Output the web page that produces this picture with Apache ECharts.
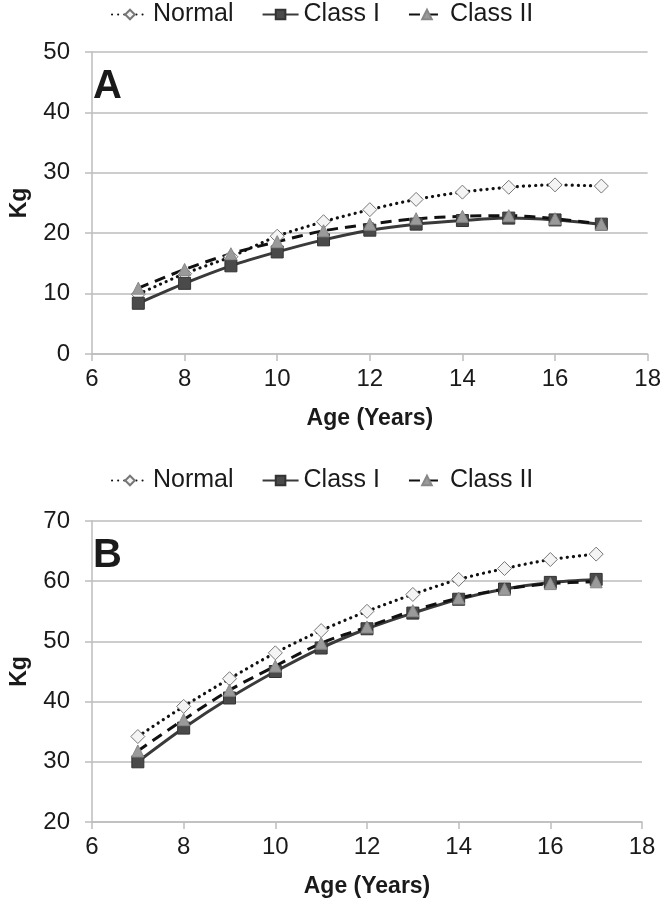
<!DOCTYPE html>
<html>
<head>
<meta charset="utf-8">
<script src="https://cdn.jsdelivr.net/npm/echarts@6/dist/echarts.min.js"></script>
<style>
html,body{margin:0;padding:0;background:#fff;}
#chart{width:664px;height:903px;}
</style>
</head>
<body>
<div id="chart"></div>
<script>
var ages = [7, 8, 9, 10, 11, 12, 13, 14, 15, 16, 17];
var seriesNames = ['Normal', 'Class I', 'Class II'];
// Panel A
var aNormal = [9.9, 13.3, 16.1, 19.5, 21.9, 23.9, 25.6, 26.8, 27.6, 28.0, 27.8];
var aClassI = [8.4, 11.7, 14.6, 16.9, 18.9, 20.5, 21.5, 22.1, 22.5, 22.2, 21.5];
var aClassII = [10.9, 14.0, 16.6, 18.6, 20.4, 21.5, 22.4, 22.8, 22.9, 22.4, 21.5];
// Panel B
var bNormal = [34.2, 39.2, 43.8, 48.1, 51.8, 55.0, 57.8, 60.3, 62.1, 63.6, 64.5];
var bClassI = [30.0, 35.6, 40.6, 45.0, 48.9, 52.1, 54.7, 57.0, 58.7, 59.8, 60.3];
var bClassII = [31.8, 37.0, 41.9, 45.9, 49.7, 52.4, 55.1, 57.2, 58.7, 59.6, 59.9];
var panelLabels = ['A', 'B'];
var xTitle = 'Age (Years)';
var yTitle = 'Kg';

function pairs(vals) { return ages.map(function (a, i) { return [a, vals[i]]; }); }

var FONT = '"Liberation Sans", Arial, sans-serif';
var TXT = '#1a1a1a';
var GRID = '#bdbdbd';

var styles = {
  'Normal': {
    symbol: 'diamond', symbolSize: 14,
    itemStyle: { color: '#f4f4f4', borderColor: '#777', borderWidth: 1 },
    lineStyle: { color: '#111', width: 3.2, type: [0.1, 6], cap: 'round' }
  },
  'Class I': {
    symbol: 'rect', symbolSize: 12,
    itemStyle: { color: '#4a4a4a', borderColor: '#333', borderWidth: 1 },
    lineStyle: { color: '#3a3a3a', width: 3, type: 'solid' }
  },
  'Class II': {
    symbol: 'triangle', symbolSize: 12,
    itemStyle: { color: '#9a9a9a', borderColor: '#888', borderWidth: 1 },
    lineStyle: { color: '#111', width: 3, type: [11, 7] }
  }
};

function mkSeries(name, vals, idx) {
  var s = styles[name];
  return {
    name: name, type: 'line', xAxisIndex: idx, yAxisIndex: idx,
    data: pairs(vals), smooth: 0.3, showSymbol: true,
    symbol: s.symbol, symbolSize: s.symbolSize,
    itemStyle: s.itemStyle, lineStyle: s.lineStyle,
    emphasis: { disabled: true }, animation: false
  };
}

function xAxis(idx) {
  return {
    type: 'value', gridIndex: idx, min: 6, max: 18, interval: 2,
    axisLine: { show: true, lineStyle: { color: GRID, width: 1.5 } },
    axisTick: { show: true, inside: false, length: 7, lineStyle: { color: GRID, width: 1.5 } },
    axisLabel: { color: TXT, fontSize: 24, fontFamily: FONT, margin: 13 },
    splitLine: { show: false },
    name: xTitle, nameLocation: 'middle', nameGap: 53,
    nameTextStyle: { color: TXT, fontSize: 23, fontWeight: 'bold', fontFamily: FONT }
  };
}
function yAxis(idx, min, max) {
  return {
    type: 'value', gridIndex: idx, min: min, max: max, interval: 10,
    axisLine: { show: true, lineStyle: { color: GRID, width: 1.5 } },
    axisTick: { show: true, inside: false, length: 7, lineStyle: { color: GRID, width: 1.5 } },
    axisLabel: { color: TXT, fontSize: 24, fontFamily: FONT, margin: 22 },
    splitLine: { show: true, lineStyle: { color: GRID, width: 1.5 } },
    name: yTitle, nameLocation: 'middle', nameGap: 61, nameRotate: 90,
    nameTextStyle: { color: TXT, fontSize: 23, fontWeight: 'bold', fontFamily: FONT }
  };
}
function legend(top) {
  return {
    data: seriesNames, left: 106, top: top, itemWidth: 36, itemHeight: 12, itemGap: 28,
    textStyle: { color: TXT, fontSize: 25, fontFamily: FONT },
    selectedMode: false
  };
}

var chart = echarts.init(document.getElementById('chart'), null, { renderer: 'canvas' });
chart.setOption({
  backgroundColor: '#fff',
  animation: false,
  legend: [legend(-3), legend(463)],
  title: [
    { text: panelLabels[0], left: 88, top: 62, textStyle: { fontSize: 40, fontWeight: 'bold', color: TXT, fontFamily: FONT } },
    { text: panelLabels[1], left: 88, top: 531, textStyle: { fontSize: 40, fontWeight: 'bold', color: TXT, fontFamily: FONT } }
  ],
  grid: [
    { left: 81, top: 52, width: 569, height: 302 },
    { left: 81, top: 521, width: 561, height: 301 }
  ],
  xAxis: [xAxis(0), xAxis(1)],
  yAxis: [yAxis(0, 0, 50), yAxis(1, 20, 70)],
  series: [
    mkSeries('Normal', aNormal, 0), mkSeries('Class I', aClassI, 0), mkSeries('Class II', aClassII, 0),
    mkSeries('Normal', bNormal, 1), mkSeries('Class I', bClassI, 1), mkSeries('Class II', bClassII, 1)
  ]
});
</script>
</body>
</html>
